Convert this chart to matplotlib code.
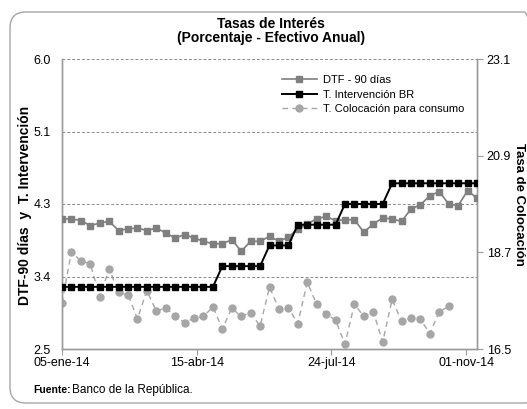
import numpy as np
import pandas as pd
import matplotlib
matplotlib.use("Agg")
import matplotlib.pyplot as plt
from matplotlib.patches import FancyBboxPatch
from matplotlib.lines import Line2D

plt.rcParams['font.family'] = ['Liberation Sans', 'DejaVu Sans']

# Weekly series, 2014
start_date = "2014-01-05"
dtf_90 = [4.07, 4.07, 4.05, 3.99, 4.02, 4.04, 3.93, 3.95, 3.96, 3.93,
          3.96, 3.90, 3.84, 3.88, 3.84, 3.80, 3.77, 3.77, 3.82, 3.68,
          3.80, 3.80, 3.86, 3.80, 3.85, 3.95, 4.01, 4.07, 4.10, 4.05,
          4.06, 4.06, 3.91, 4.01, 4.08, 4.07, 4.04, 4.19, 4.24, 4.35,
          4.40, 4.25, 4.23, 4.41, 4.32]
intervencion_br = [3.25] * 17 + [3.50] * 5 + [3.75] * 3 + [4.00] * 5 + [4.25] * 5 + [4.50] * 10
colocacion_consumo = [17.55, 18.71, 18.50, 18.44, 17.68, 18.32, 17.79, 17.73, 17.19, 17.83,
                      17.36, 17.44, 17.24, 17.10, 17.20, 17.24, 17.46, 16.96, 17.43, 17.24,
                      17.33, 17.02, 17.91, 17.41, 17.44, 17.08, 18.02, 17.52, 17.30, 17.16,
                      16.61, 17.52, 17.24, 17.35, 16.66, 17.63, 17.13, 17.21, 17.18, 16.85,
                      17.35, 17.47]

tick_dates = ["2014-01-05", "2014-04-15", "2014-07-24", "2014-11-01"]
tick_labels = ["05-ene-14", "15-abr-14", "24-jul-14", "01-nov-14"]
left_ticks = [2.5, 3.375, 4.25, 5.125, 6.0]
left_tick_labels = ["2.5", "3.4", "4.3", "5.1", "6.0"]
right_ticks = [16.5, 18.7, 20.9, 23.1]

dates = pd.date_range(start_date, periods=len(dtf_90), freq="7D")
dates_col = dates[:len(colocacion_consumo)]

W, H = 527, 409
fig = plt.figure(figsize=(W / 100, H / 100), dpi=100)

# rounded frame around the whole chart
frame = FancyBboxPatch((10 / W, 6 / H), 530 / W, 391 / H,
                       boxstyle="round,pad=0,rounding_size=0.03",
                       transform=fig.transFigure, facecolor="none",
                       edgecolor="#a6a6a6", linewidth=1.0, mutation_aspect=W / H)
fig.patches.append(frame)

ax = fig.add_axes([62 / W, 1 - 349 / H, 415 / W, 290 / H])
ax2 = ax.twinx()

gray_spine = "#9a9a9a"
for a in (ax, ax2):
    a.set_facecolor("none")
    a.spines["top"].set_visible(False)
    for s in ("left", "right", "bottom"):
        a.spines[s].set_color(gray_spine)
        a.spines[s].set_linewidth(1.0)

ax.set_zorder(ax2.get_zorder() + 1)

# grid lines (dashed) on the left scale
for yv in left_ticks[1:]:
    ax.axhline(yv, color="#8c8c8c", linestyle=(0, (3, 2)), linewidth=0.7, zorder=0)

ax.plot(dates, dtf_90, color="#7f7f7f", marker="s", markersize=4.2,
        linewidth=1.2, zorder=3)
ax.plot(dates, intervencion_br, color="black", marker="s", markersize=4.2,
        linewidth=1.4, zorder=4)
ax2.plot(dates_col, colocacion_consumo, color="#a6a6a6", marker="o", markersize=5,
         linewidth=1.0, linestyle=(0, (4, 3)), zorder=2)

ax.set_ylim(2.5, 6.0)
ax2.set_ylim(16.5, 23.1)
ax.set_xlim(dates[0], dates[-1])

ax.set_yticks(left_ticks)
ax.set_yticklabels(left_tick_labels)
ax2.set_yticks(right_ticks)
ax2.set_yticklabels([f"{v:.1f}" for v in right_ticks])

ax.set_xticks(pd.to_datetime(tick_dates))
ax.set_xticklabels(tick_labels)

ax.tick_params(axis="y", length=0, labelsize=9, pad=8)
ax.tick_params(axis="x", length=4, color=gray_spine, labelsize=9, pad=2, direction="out")
ax2.tick_params(axis="y", length=4, color=gray_spine, labelsize=9, pad=3, direction="out")

# axis titles
fig.text(25 / W, 1 - 205 / H, "DTF-90 días  y  T. Intervención", rotation=90,
         ha="center", va="center", fontsize=10, fontweight="bold")
fig.text(519 / W, 1 - 204 / H, "Tasa de Colocación", rotation=270,
         ha="center", va="center", fontsize=9.5, fontweight="bold")

fig.text(0.515, 1 - 24 / H, "Tasas de Interés", ha="center", va="center",
         fontsize=10, fontweight="bold")
fig.text(0.515, 1 - 38 / H, "(Porcentaje - Efectivo Anual)", ha="center", va="center",
         fontsize=10, fontweight="bold")

fig.text(33 / W, 1 - 390 / H, "Fuente:", ha="left", va="center", fontsize=7.5, fontweight="bold")
fig.text(72 / W, 1 - 390 / H, "Banco de la República.", ha="left", va="center", fontsize=8.5)

handles = [
    Line2D([], [], color="#7f7f7f", marker="s", markersize=4, linewidth=1.2),
    Line2D([], [], color="black", marker="s", markersize=4, linewidth=1.4),
    Line2D([], [], color="#a6a6a6", marker="o", markersize=5, linewidth=1.0, linestyle=(0, (4, 3))),
]
labels = ["DTF - 90 días", "T. Intervención BR", "T. Colocación para consumo"]
leg = ax.legend(handles, labels, loc="upper right", bbox_to_anchor=(0.985, 0.967),
                frameon=False, fontsize=8, handlelength=3.2, handletextpad=0.5,
                labelspacing=0.4, borderaxespad=0.2)

fig.savefig("out.png", dpi=100)
